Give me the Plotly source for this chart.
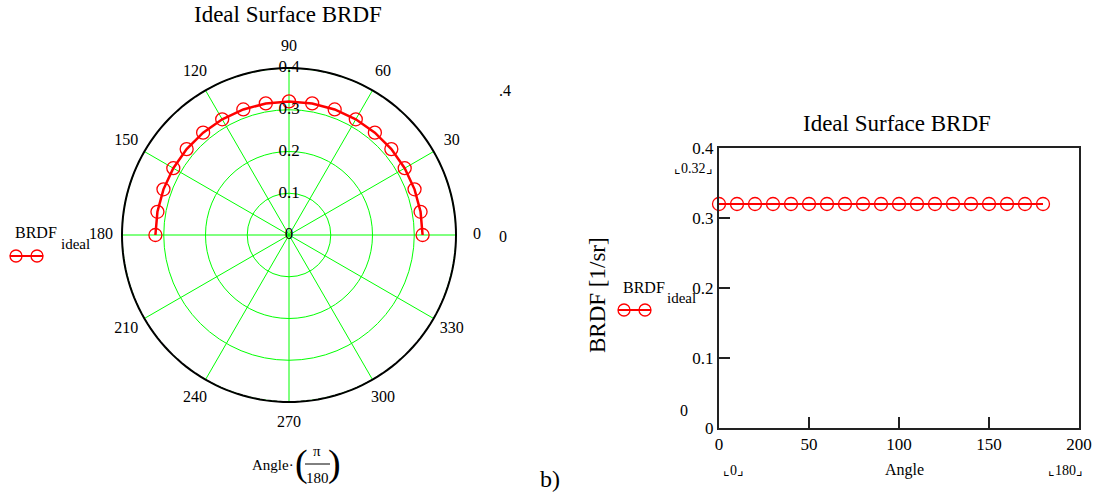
import plotly.graph_objects as go

W, H = 1095, 494

# ---- data ----
angles_deg = [0, 10, 20, 30, 40, 50, 60, 70, 80, 90, 100, 110, 120, 130, 140, 150, 160, 170, 180]
brdf_ideal = [0.32, 0.32, 0.32, 0.32, 0.32, 0.32, 0.32, 0.32, 0.32, 0.32,
              0.32, 0.32, 0.32, 0.32, 0.32, 0.32, 0.32, 0.32, 0.32]
polar_angle_ticks = [0, 30, 60, 90, 120, 150, 180, 210, 240, 270, 300, 330]
polar_radial_ticks = [0, 0.1, 0.2, 0.3, 0.4]
polar_radial_labels = ["0", "0.1", "0.2", "0.3", "0.4"]
cart_x_ticks = [0, 50, 100, 150, 200]
cart_y_ticks = [0, 0.1, 0.2, 0.3, 0.4]
cart_y_labels = ["0", "0.1", "0.2", "0.3", "0.4"]

SERIF = "Liberation Serif, Times New Roman, serif"
RED = "#ff0000"
GREEN = "#00ff00"
R_MAX = 0.4                  # outer ring of the polar plot
LABEL_R = R_MAX * 188 / 167  # angular labels sit just outside the ring
CX, CY, RPIX = 289, 235, 188  # polar centre / radius incl. label band (px)


def px(x):
    return x / W


def py(y):
    return 1 - y / H


fig = go.Figure()

# spokes (angular grid) from centre to the outer ring
spoke_r, spoke_t = [], []
for a in polar_angle_ticks:
    spoke_r += [0, R_MAX, None]
    spoke_t += [a, a, None]
fig.add_trace(go.Scatterpolar(
    r=spoke_r, theta=spoke_t, mode="lines", line=dict(color=GREEN, width=1),
    subplot="polar", showlegend=False, hoverinfo="skip", connectgaps=False))
# outer ring
ring_t = list(range(0, 361, 2))
fig.add_trace(go.Scatterpolar(
    r=[R_MAX] * len(ring_t), theta=ring_t, mode="lines", line=dict(color="black", width=2),
    subplot="polar", showlegend=False, hoverinfo="skip"))

# polar curve
fig.add_trace(go.Scatterpolar(
    r=brdf_ideal, theta=angles_deg, mode="lines+markers",
    line=dict(color=RED, width=2.5),
    marker=dict(symbol="circle-open", size=13, color=RED, line=dict(width=1.3)),
    subplot="polar", showlegend=False, cliponaxis=False))
# radial tick labels placed on the 90° axis
fig.add_trace(go.Scatterpolar(
    r=polar_radial_ticks, theta=[90] * len(polar_radial_ticks), mode="text",
    text=polar_radial_labels, textposition="middle center",
    textfont=dict(family=SERIF, size=17, color="black"),
    subplot="polar", showlegend=False, cliponaxis=False, hoverinfo="skip"))
# angular tick labels centred just outside the rim
fig.add_trace(go.Scatterpolar(
    r=[LABEL_R] * len(polar_angle_ticks), theta=polar_angle_ticks, mode="text",
    text=[str(v) for v in polar_angle_ticks], textposition="middle center",
    textfont=dict(family=SERIF, size=16, color="black"),
    subplot="polar", showlegend=False, cliponaxis=False, hoverinfo="skip"))

# cartesian curve
fig.add_trace(go.Scatter(
    x=angles_deg, y=brdf_ideal, mode="lines+markers",
    line=dict(color=RED, width=2),
    marker=dict(symbol="circle-open", size=13, color=RED, line=dict(width=1.3)),
    xaxis="x", yaxis="y", showlegend=False, cliponaxis=False))

fig.update_layout(
    width=W, height=H, autosize=False,
    margin=dict(l=0, r=0, t=0, b=0, pad=0, autoexpand=False),
    paper_bgcolor="white", plot_bgcolor="white",
    font=dict(family=SERIF, size=16, color="black"),
    showlegend=False,
    polar=dict(
        domain=dict(x=[px(CX - RPIX), px(CX + RPIX)], y=[py(CY + RPIX), py(CY - RPIX)]),
        bgcolor="rgba(0,0,0,0)",
        angularaxis=dict(
            direction="counterclockwise", rotation=0,
            showticklabels=False, ticks="", showline=False, showgrid=False,
        ),
        radialaxis=dict(
            range=[0, LABEL_R], tickmode="array", tickvals=[0.1, 0.2, 0.3, 0.4],
            showticklabels=False, ticks="", showline=False,
            showgrid=True, gridcolor=GREEN, gridwidth=1,
        ),
    ),
    xaxis=dict(
        domain=[px(719), px(1079)], anchor="y", automargin=False,
        range=[0, 200], tickmode="array", tickvals=cart_x_ticks,
        ticks="inside", ticklen=11, tickwidth=2, tickcolor="#222",
        showline=True, linecolor="#222", linewidth=2, mirror=True,
        showgrid=False, zeroline=False,
        tickfont=dict(family=SERIF, size=17, color="black"),
    ),
    yaxis=dict(
        domain=[py(428), py(148)], anchor="x", automargin=False,
        range=[0, 0.4], tickmode="array", tickvals=cart_y_ticks, ticktext=cart_y_labels,
        ticks="inside", ticklen=11, tickwidth=2, tickcolor="#222",
        showline=True, linecolor="#222", linewidth=2, mirror=True,
        showgrid=False, zeroline=False,
        tickfont=dict(family=SERIF, size=17, color="black"),
    ),
)

ann = []


def text(x, y, s, size=16, xanchor="center", yanchor="middle", angle=0):
    ann.append(dict(x=px(x), y=py(y), xref="paper", yref="paper", text=s, showarrow=False,
                    xanchor=xanchor, yanchor=yanchor, textangle=angle,
                    font=dict(family=SERIF, size=size, color="black")))


text(288, 14, "Ideal Surface BRDF", 23)
text(897, 124, "Ideal Surface BRDF", 23)
text(597, 295, "BRDF [1/sr]", 23, angle=-90)
# left legend text
text(13, 232, "BRDF", 16, xanchor="left")
text(59, 244, "ideal", 15, xanchor="left")
# right legend text
text(621, 287, "BRDF", 16, xanchor="left")
text(665, 298, "ideal", 15, xanchor="left")
# extra mathcad placeholders
text(505, 90, ".4", 16)
text(503, 237, "0", 16)
text(684, 410, "0", 16)
text(693, 169, "⌞0.32⌟", 14)
text(733, 470, "⌞0⌟", 14)
text(904, 470, "Angle", 16)
text(1065, 470, "⌞180⌟", 14)
text(550, 479, "b)", 24)
# angle expression below polar
text(273, 465, "Angle·", 15)
text(301, 463, "(", 38)
text(317, 451, "π", 15)
text(317, 478, "180", 15)
text(334, 463, ")", 38)

shapes = [
    dict(type="line", xref="paper", yref="paper", x0=px(305), x1=px(330), y0=py(464), y1=py(464),
         line=dict(color="black", width=1)),
]
# legend samples
for (x0, x1, yy) in [(10, 43, 256), (618, 651, 310)]:
    shapes.append(dict(type="line", xref="paper", yref="paper", x0=px(x0), x1=px(x1), y0=py(yy), y1=py(yy),
                       line=dict(color=RED, width=2)))
    for cx in (x0 + 6, x1 - 6):
        shapes.append(dict(type="circle", xref="paper", yref="paper",
                           x0=px(cx - 6), x1=px(cx + 6), y0=py(yy + 6), y1=py(yy - 6),
                           line=dict(color=RED, width=1.3)))

fig.update_layout(annotations=ann, shapes=shapes)
fig.write_html("out.html", config={"displayModeBar": False},
               post_script="document.body.style.margin='0';document.body.style.padding='0';"
                           "document.documentElement.style.overflow='hidden';")
